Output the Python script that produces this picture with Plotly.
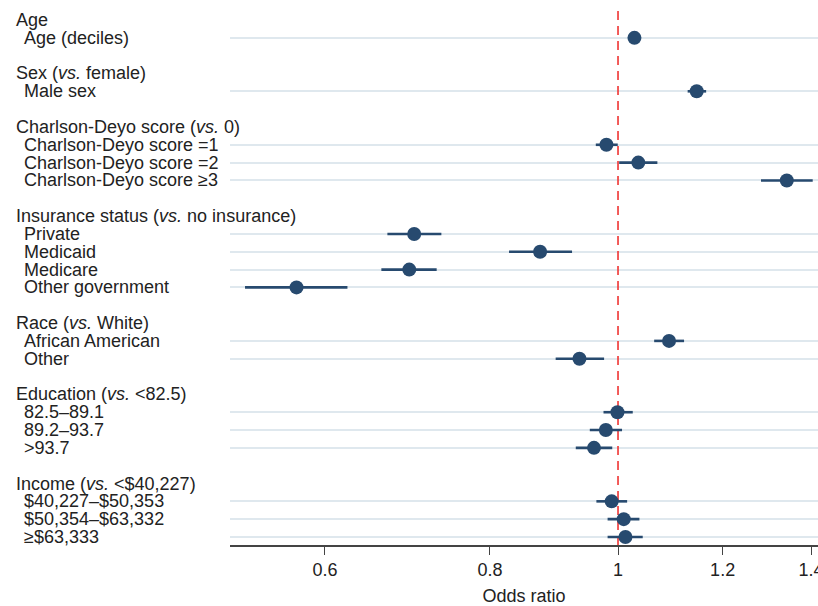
import math
import plotly.graph_objects as go

group_titles = [
    "Age",
    "Sex (<i>vs.</i> female)",
    "Charlson-Deyo score (<i>vs.</i> 0)",
    "Insurance status (<i>vs.</i> no insurance)",
    "Race (<i>vs.</i> White)",
    "Education (<i>vs.</i> <82.5)",
    "Income (<i>vs.</i> <$40,227)",
]
item_labels = [
    "Age (deciles)",
    "Male sex",
    "Charlson-Deyo score =1", "Charlson-Deyo score =2", "Charlson-Deyo score ≥3",
    "Private", "Medicaid", "Medicare", "Other government",
    "African American", "Other",
    "82.5–89.1", "89.2–93.7", ">93.7",
    "$40,227–$50,353", "$50,354–$63,332", "≥$63,333",
]
item_group = [0, 1, 2, 2, 2, 3, 3, 3, 3, 4, 4, 5, 5, 5, 6, 6, 6]
odds_ratio = [1.029, 1.147, 0.980, 1.036, 1.342, 0.701, 0.873, 0.695, 0.571,
              1.093, 0.935, 0.999, 0.979, 0.959, 0.989, 1.010, 1.013]
ci_low = [1.022, 1.129, 0.962, 1.002, 1.283, 0.669, 0.827, 0.662, 0.522,
          1.065, 0.897, 0.975, 0.952, 0.929, 0.963, 0.982, 0.982]
ci_high = [1.037, 1.166, 0.9995, 1.071, 1.404, 0.735, 0.923, 0.729, 0.624,
           1.122, 0.976, 1.026, 1.007, 0.990, 1.016, 1.038, 1.044]
x_ticks = [0.6, 0.8, 1, 1.2, 1.4]
x_tick_text = ["0.6", "0.8", "1", "1.2", "1.4"]

# Row layout: header row, item rows, blank row
header_rows = []
item_rows = []
r = 0
for g in range(len(group_titles)):
    header_rows.append(r)
    r += 1
    for i, gi in enumerate(item_group):
        if gi == g:
            item_rows.append(r)
            r += 1
    r += 1
last_row = item_rows[-1]

W, H = 818, 606
plot_left, plot_top, plot_bottom = 230, 11, 545
row0_px, row_last_px = 20, 537
step = (row_last_px - row0_px) / last_row
y_top = (plot_top - row0_px) / step
y_bot = (plot_bottom - row0_px) / step

navy = "#274a6f"
text_col = "#222222"
fs = 18
fig = go.Figure()

# reference line at OR = 1
fig.add_trace(go.Scatter(
    x=[1, 1], y=[y_top, y_bot], mode="lines",
    line=dict(color="#f0403f", width=1.7, dash="9px,6px"),
    hoverinfo="skip", showlegend=False,
))

# CI lines
for i in range(len(item_labels)):
    fig.add_trace(go.Scatter(
        x=[ci_low[i], ci_high[i]], y=[item_rows[i], item_rows[i]],
        mode="lines", line=dict(color=navy, width=2.6),
        hoverinfo="skip", showlegend=False,
    ))

fig.add_trace(go.Scatter(
    x=odds_ratio, y=item_rows, mode="markers",
    marker=dict(color=navy, size=14, line=dict(width=0)),
    showlegend=False,
))

font_family = "Liberation Sans, Arial, Helvetica, sans-serif"
annotations = []
for g, t in enumerate(group_titles):
    annotations.append(dict(
        text=t, x=14 / W, xref="paper", y=header_rows[g], yref="y",
        xanchor="left", yanchor="middle", showarrow=False,
        font=dict(size=fs, color=text_col, family=font_family),
    ))
for i, t in enumerate(item_labels):
    annotations.append(dict(
        text=t, x=22 / W, xref="paper", y=item_rows[i], yref="y",
        xanchor="left", yanchor="middle", showarrow=False,
        font=dict(size=fs, color=text_col, family=font_family),
    ))

x_lo = math.log10(0.5085)
x_hi = math.log10(1.417)

fig.update_layout(
    width=W, height=H,
    margin=dict(l=0, r=0, t=plot_top, b=H - plot_bottom, pad=0, autoexpand=False),
    plot_bgcolor="white", paper_bgcolor="white",
    font=dict(family=font_family, size=fs, color=text_col),
    annotations=annotations,
    xaxis=dict(
        type="log", range=[x_lo, x_hi], domain=[plot_left / W, 1],
        automargin=False,
        tickvals=x_ticks, ticktext=x_tick_text, ticklabeloverflow="allow",
        ticks="outside", ticklen=8, tickwidth=1.3, tickcolor="#444444",
        showline=True, linecolor="#444444", linewidth=1.5,
        showgrid=False, zeroline=False,
        tickfont=dict(size=fs, color=text_col),
        title=dict(text="Odds ratio", font=dict(size=fs, color=text_col), standoff=11),
    ),
    yaxis=dict(
        range=[y_bot, y_top], tickvals=item_rows, showticklabels=False,
        automargin=False,
        showgrid=True, gridcolor="#dfe8ee", gridwidth=1.6,
        zeroline=False, showline=False, ticks="",
    ),
)

fig.write_html(
    "out.html",
    config={"displayModeBar": False},
    post_script="document.body.style.margin='0';document.body.style.overflow='hidden';",
)
